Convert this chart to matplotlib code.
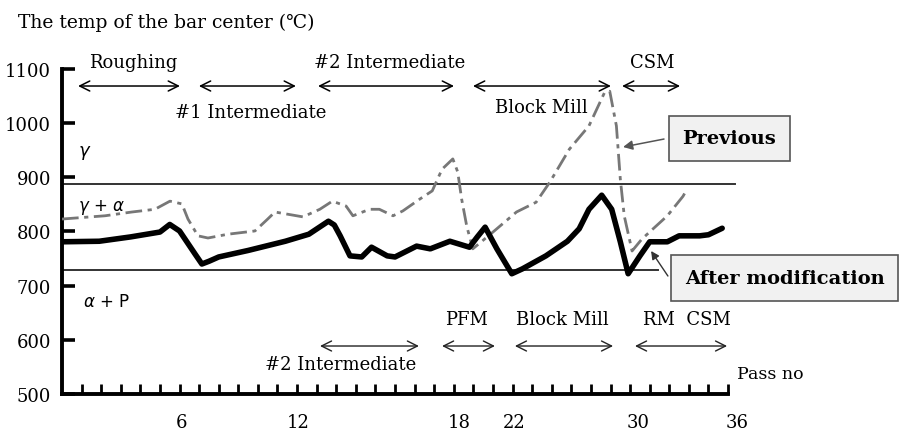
import numpy as np
import matplotlib
matplotlib.use("Agg")
from matplotlib import pyplot as plt

# pass position along the axis (one unit = one tick) and bar center temp
after_x = [0, 1.9, 3.5, 5.0, 5.5, 6.0, 6.8, 7.14, 7.5, 8.0, 9.5, 11.4, 12.6, 13.6, 13.9,
           14.2, 14.7, 15.3, 15.8, 16.6, 17.0, 18.1, 18.8, 19.8, 20.8, 21.2, 21.6, 22.2,
           22.96, 23.5, 24.7, 25.8, 26.4, 26.9, 27.55, 28.06, 28.5, 28.9, 29.5, 30.0,
           30.9, 31.5, 32.55, 33.0, 33.7]
after_temp = [781, 782, 790, 799, 813, 801, 758, 740, 745, 753, 765, 782, 795, 819, 812,
              792, 755, 753, 771, 755, 753, 773, 768, 782, 771, 790, 808, 768,
              722, 731, 755, 782, 805, 841, 867, 841, 781, 722, 755, 781,
              781, 792, 792, 794, 806]

prev_x = [0, 2.19, 3.57, 4.74, 5.51, 6.12, 6.43, 6.94, 7.45, 8.47, 9.85, 10.5, 10.87,
          12.3, 13.16, 13.8, 14.5, 14.85, 15.7, 16.2, 16.9, 17.4, 18.27, 18.9, 19.4,
          19.95, 20.2, 20.4, 20.66, 20.97, 22.0, 23.2, 24.2, 24.9, 25.9, 26.9, 27.7,
          27.96, 28.3, 28.5, 28.7, 29.1, 29.6, 30.9, 31.7, 31.9]
prev_temp = [823, 829, 836, 841, 856, 851, 823, 792, 788, 795, 801, 823, 836,
             827, 841, 856, 847, 829, 841, 841, 829, 838, 860, 875, 915,
             934, 910, 860, 810, 768, 799, 836, 854, 891, 952, 995, 1057,
             1059, 995, 897, 829, 764, 786, 829, 865, 878]

gamma_line = 888
alpha_p_line = 729

pass_labels = ["6", "12", "18", "22", "30", "36"]
pass_label_pos = [6.1, 12.07, 20.28, 23.1, 29.4, 34.45]
temp_ticks = [500, 600, 700, 800, 900, 1000, 1100]

# stage spans: (start, end, label, label x, label y)
top_stages = [(0.82, 6.02, "Roughing", 3.62, 1113),
              (6.99, 11.94, "#1 Intermediate", 9.65, 1021),
              (13.07, 20.01, "#2 Intermediate", 16.74, 1113),
              (20.98, 28.02, "Block Mill", 24.45, 1030),
              (28.59, 31.55, "CSM", 30.12, 1113)]
bottom_stages = [(13.17, 18.22, "#2 Intermediate", 14.24, 555),
                 (19.4, 22.1, "PFM", 20.67, 638),
                 (23.12, 28.13, "Block Mill", 25.52, 638),
                 (29.25, 33.95, "RM  CSM", 31.9, 638)]

serif = ["DejaVu Serif", "DejaVu Sans"]
plt.rcParams['font.family'] = serif

fig = plt.figure(figsize=(9.14, 4.31), dpi=100)
ax = fig.add_axes([62 / 914, 1 - 395 / 431, 34.5 * 19.59 / 914, 325 / 431])
ax.set_xlim(0, 34.5)
ax.set_ylim(500, 1100)

for s in ['top', 'right']:
    ax.spines[s].set_visible(False)
ax.spines['left'].set_linewidth(2.8)
ax.spines['bottom'].set_linewidth(2.8)
ax.spines['bottom'].set_bounds(0, 34)

ax.set_yticks(temp_ticks)
ax.tick_params(axis='y', direction='in', length=9, width=2.6, labelsize=13, pad=8)
ax.set_xticks(pass_label_pos)
ax.set_xticklabels(pass_labels)
ax.set_xticks(np.arange(1, 35), minor=True)
ax.tick_params(axis='x', which='major', length=0, labelsize=13, pad=14)
ax.tick_params(axis='x', which='minor', direction='in', length=7, width=2)

# phase boundaries
ax.plot([0, 34.35], [gamma_line, gamma_line], color='#333333', lw=1.4, clip_on=False)
ax.plot([0, 30.4], [alpha_p_line, alpha_p_line], color='#333333', lw=1.4, clip_on=False)

ax.plot(prev_x, prev_temp, color='#777777', lw=2.0, dashes=(6, 2, 1.5, 2), zorder=3)
ax.plot(after_x, after_temp, color='black', lw=4.0, solid_capstyle='round',
        solid_joinstyle='round', zorder=4)

ax.text(1.17, 947, r"$\gamma$", fontsize=13, ha='center', va='center')
ax.text(2.0, 847, r"$\gamma$ + $\alpha$", fontsize=12, ha='center', va='center',
        family='DejaVu Sans')
ax.text(2.25, 672, r"$\alpha$ + P", fontsize=12, ha='center', va='center',
        family='DejaVu Sans')

for x0, x1, name, tx, ty in top_stages:
    ax.annotate('', xy=(x1, 1068.6), xytext=(x0, 1068.6), annotation_clip=False,
                arrowprops=dict(arrowstyle='<->', lw=1.1, color='black',
                                shrinkA=0, shrinkB=0, mutation_scale=18))
    ax.text(tx, ty, name, fontsize=13, ha='center', va='center')

for x0, x1, name, tx, ty in bottom_stages:
    ax.annotate('', xy=(x1, 588.6), xytext=(x0, 588.6), annotation_clip=False,
                arrowprops=dict(arrowstyle='<->', lw=1.0, color='#222222',
                                shrinkA=0, shrinkB=0, mutation_scale=18))
    ax.text(tx, ty, name, fontsize=13, ha='center', va='center')

ax.text(34.46, 537, "Pass no", fontsize=12.5, ha='left', va='center')

fig.text(18 / 914, 1 - 23 / 431, "The temp of the bar center (\u2103)", fontsize=13.5,
         ha='left', va='center')

box = dict(boxstyle='square,pad=0.7', facecolor='#f1f1f1', edgecolor='#555555', lw=1.2)
ax.text(34.07, 972, "Previous", fontsize=14, fontweight='bold', ha='center',
        va='center', bbox=box, clip_on=False)
ax.text(36.9, 714, "After modification", fontsize=14, fontweight='bold', ha='center',
        va='center', bbox=box, clip_on=False)

# callout arrows from the boxes to the curves
ax.annotate('', xy=(28.64, 956), xytext=(30.73, 970.7), annotation_clip=False,
            arrowprops=dict(arrowstyle='-|>', color='#555555', lw=1.1, shrinkA=0,
                            shrinkB=0, mutation_scale=14))
ax.annotate('', xy=(30.07, 764), xytext=(30.93, 717.8), annotation_clip=False,
            arrowprops=dict(arrowstyle='-|>', color='#333333', lw=1.0, shrinkA=0,
                            shrinkB=0, mutation_scale=12))

fig.savefig("out.png", dpi=100)
